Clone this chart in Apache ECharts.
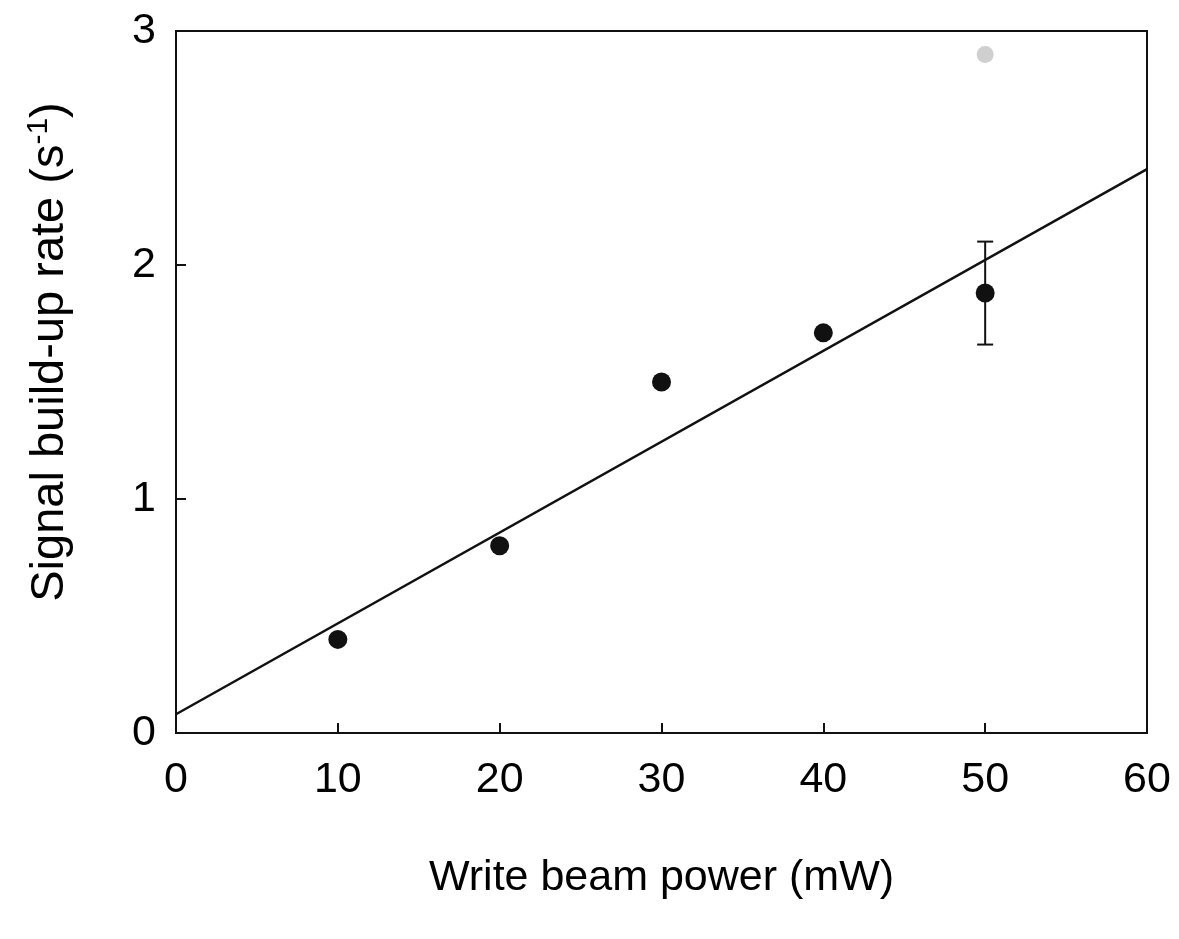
<!DOCTYPE html>
<html>
<head>
<meta charset="utf-8">
<script src="https://cdn.jsdelivr.net/npm/echarts@6/dist/echarts.min.js"></script>
<style>html,body{margin:0;padding:0;background:#fff;}#c{width:1179px;height:939px;}</style>
</head>
<body>
<div id="c"></div>
<script>
// Data
var powerMW = [10, 20, 30, 40, 50];
var rate = [0.40, 0.80, 1.50, 1.71, 1.88];
var errX = [50];
var errLow = [1.66];
var errHigh = [2.10];
var fitX = [0, 60];
var fitY = [0.08, 2.41];
var faintX = [50];
var faintY = [2.90];
var xTicks = [0, 10, 20, 30, 40, 50, 60];
var yTicks = [0, 1, 2, 3];

var pts = powerMW.map(function (x, i) { return [x, rate[i]]; });
var fit = fitX.map(function (x, i) { return [x, fitY[i]]; });
var errs = errX.map(function (x, i) { return [x, errLow[i], errHigh[i]]; });
var faint = faintX.map(function (x, i) { return [x, faintY[i]]; });

var font = 'Liberation Sans, Arial, sans-serif';
var chart = echarts.init(document.getElementById('c'));
chart.setOption({
  backgroundColor: '#fff',
  animation: false,
  grid: { left: 176, right: 32, top: 31, bottom: 206, show: true, borderColor: '#111', borderWidth: 2, backgroundColor: 'transparent' },
  xAxis: {
    type: 'value', min: xTicks[0], max: xTicks[xTicks.length - 1], interval: 10,
    axisLine: { show: true, onZero: false, lineStyle: { color: '#111', width: 2 } },
    axisTick: { show: true, inside: true, length: 10, lineStyle: { color: '#111', width: 2 } },
    splitLine: { show: false },
    axisLabel: { color: '#000', fontSize: 43, fontFamily: font, margin: 26 },
    name: 'Write beam power (mW)', nameLocation: 'middle', nameGap: 124,
    nameTextStyle: { color: '#000', fontSize: 43, fontFamily: font }
  },
  yAxis: {
    type: 'value', min: yTicks[0], max: yTicks[yTicks.length - 1], interval: 1,
    axisLine: { show: true, onZero: false, lineStyle: { color: '#111', width: 2 } },
    axisTick: { show: true, inside: true, length: 10, lineStyle: { color: '#111', width: 2 } },
    splitLine: { show: false },
    axisLabel: { color: '#000', fontSize: 43, fontFamily: font, margin: 20 },
    name: '{n|Signal build-up rate (s}{sup|-1}{n|)}', nameLocation: 'middle', nameGap: 100,
    nameTextStyle: {
      color: '#000', fontFamily: font, padding: [0, 0, 0, 60],
      rich: {
        n: { fontSize: 47, fontFamily: font, color: '#000' },
        sup: { fontSize: 30, fontFamily: font, color: '#000', verticalAlign: 'top', padding: [0, 0, 22, 0] }
      }
    }
  },
  series: [
    {
      type: 'line', data: fit, symbol: 'none', silent: true,
      lineStyle: { color: '#111', width: 2.5 }, z: 2
    },
    {
      type: 'custom', data: errs, z: 3,
      renderItem: function (params, api) {
        var x = api.value(0);
        var lo = api.coord([x, api.value(1)]);
        var hi = api.coord([x, api.value(2)]);
        var w = 8;
        var st = { stroke: '#111', lineWidth: 2 };
        return {
          type: 'group',
          children: [
            { type: 'line', shape: { x1: lo[0], y1: lo[1], x2: hi[0], y2: hi[1] }, style: st },
            { type: 'line', shape: { x1: lo[0] - w, y1: lo[1], x2: lo[0] + w, y2: lo[1] }, style: st },
            { type: 'line', shape: { x1: hi[0] - w, y1: hi[1], x2: hi[0] + w, y2: hi[1] }, style: st }
          ]
        };
      }
    },
    {
      type: 'scatter', data: pts, symbol: 'circle', symbolSize: 19,
      itemStyle: { color: '#111', opacity: 1 }, z: 4
    },
    {
      type: 'scatter', data: faint, symbol: 'circle', symbolSize: 17,
      itemStyle: { color: '#cfcfcf', opacity: 1 }, z: 1
    }
  ]
});
</script>
</body>
</html>
